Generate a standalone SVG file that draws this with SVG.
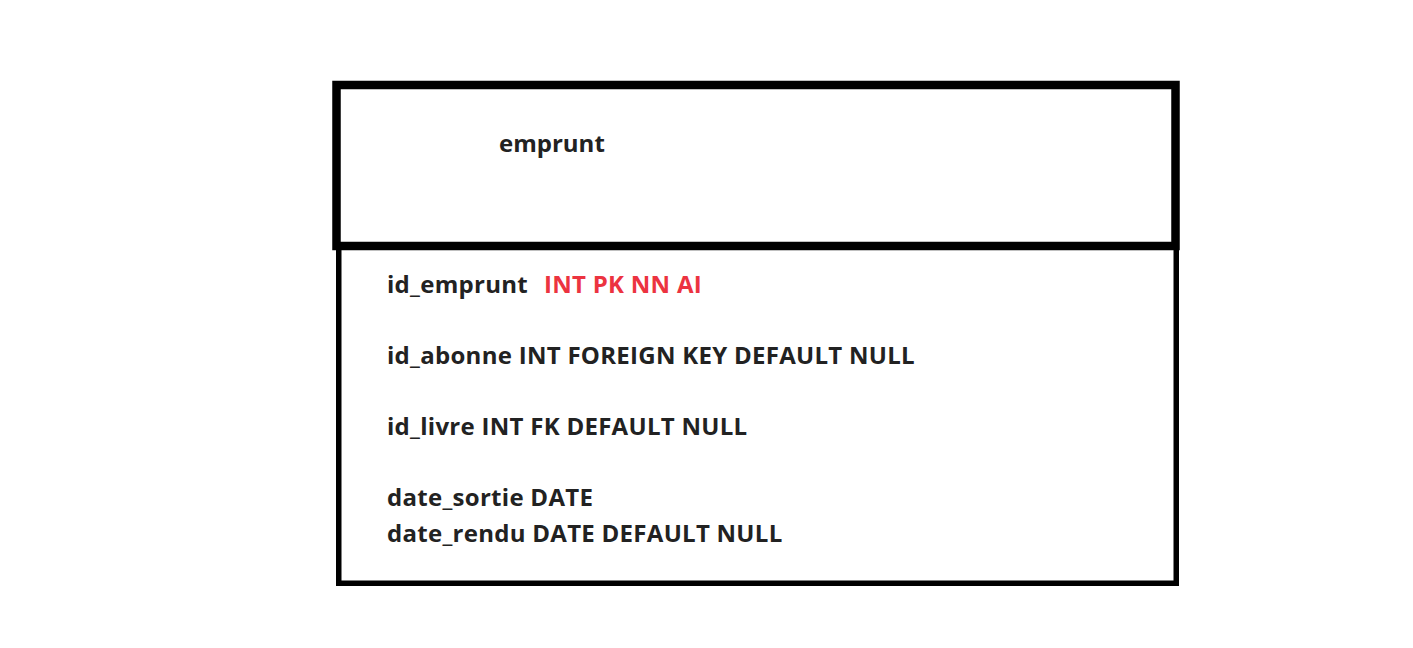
<svg xmlns="http://www.w3.org/2000/svg" width="1413" height="648" viewBox="0 0 1413 648">
<style>
.t{font-family:"Open Sans","Noto Sans",sans-serif;font-weight:bold;font-size:24px;fill:#222222}
.b{letter-spacing:0.28px}
.r{fill:#ec3340}
.box{fill:none;stroke:#000}
</style>
<rect width="1413" height="648" fill="#fff"/>
<g id="body">
<rect class="box" x="338.75" y="246" width="837.5" height="337.25" stroke-width="5.5"/>
<text class="t b" x="387" y="293">id_emprunt <tspan class="r" x="544">INT PK NN AI</tspan></text>
<text class="t b" x="387" y="364">id_abonne INT FOREIGN KEY DEFAULT NULL</text>
<text class="t b" x="387" y="435">id_livre INT FK DEFAULT NULL</text>
<text class="t b" x="387" y="506">date_sortie DATE</text>
<text class="t b" x="387" y="542">date_rendu DATE DEFAULT NULL</text>
</g>
<g id="header">
<rect class="box" x="336.5" y="85" width="839" height="161" stroke-width="8.5"/>
<text class="t" x="499" y="152">emprunt</text>
</g>
</svg>
